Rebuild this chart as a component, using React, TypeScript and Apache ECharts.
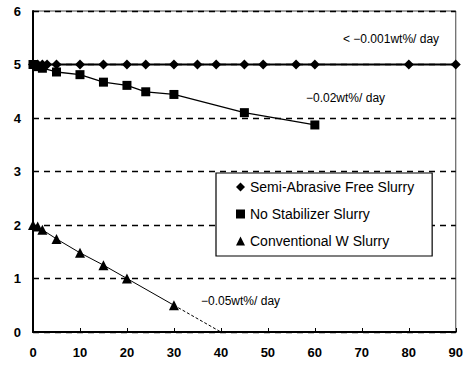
import React, { useEffect, useRef } from "react";
import * as echarts from "echarts";

const xTicks = [0, 10, 20, 30, 40, 50, 60, 70, 80, 90];
const yTicks = [0, 1, 2, 3, 4, 5, 6];

const semiDays = [0, 1, 2, 3, 5, 10, 15, 20, 24, 30, 35, 39, 45, 49, 56, 60, 80, 90];
const semiValues = [5, 5, 5, 5, 5, 5, 5, 5, 5, 5, 5, 5, 5, 5, 5, 5, 5, 5];

const noStabDays = [0, 1, 2, 5, 10, 15, 20, 24, 30, 45, 60];
const noStabValues = [5.0, 4.96, 4.93, 4.86, 4.81, 4.67, 4.61, 4.49, 4.44, 4.1, 3.87];

const convDays = [0, 1, 2, 5, 10, 15, 20, 30];
const convValues = [2.0, 1.97, 1.91, 1.74, 1.48, 1.25, 1.0, 0.5];

const convTrendDays = [30, 40];
const convTrendValues = [0.5, 0];

const seriesNames = ["Semi-Abrasive Free Slurry", "No Stabilizer Slurry", "Conventional W Slurry"];
const rateLabels = ["< \u22120.001wt%/ day", "\u22120.02wt%/ day", "\u22120.05wt%/ day"];

const zip = (xs: number[], ys: number[]) => xs.map((x, i) => [x, ys[i]]);

export default function App() {
  const ref = useRef<HTMLDivElement>(null);
  useEffect(() => {
    if (!ref.current) return;
    const chart = echarts.init(ref.current, null, { renderer: "svg" });
    const labelFont = {
      color: "#000",
      fontFamily: "'Liberation Sans Narrow', 'Liberation Sans', Arial, sans-serif",
      fontWeight: "bold" as const,
      fontSize: 13,
    };
    const txt = {
      fill: "#000",
      fontFamily: "'Liberation Sans', Arial, sans-serif",
      fontSize: 12,
    };
    chart.setOption({
      animation: false,
      backgroundColor: "#fff",
      grid: {
        left: 33,
        right: 6,
        top: 11,
        bottom: 34,
        show: true,
        borderColor: "#444",
        borderWidth: 1,
        backgroundColor: "transparent",
      },
      xAxis: {
        type: "value",
        min: 0,
        max: 90,
        interval: 10,
        axisLine: { lineStyle: { color: "#000", width: 2 } },
        axisTick: { show: true, inside: true, length: 4, lineStyle: { color: "#000" } },
        axisLabel: { ...labelFont, margin: 14, formatter: (v: number) => (xTicks.includes(v) ? String(v) : "") },
        splitLine: { show: false },
      },
      yAxis: {
        type: "value",
        min: 0,
        max: 6,
        interval: 1,
        axisLine: { show: true, lineStyle: { color: "#000", width: 2 } },
        axisTick: { show: false },
        axisLabel: { ...labelFont, margin: 12, formatter: (v: number) => (yTicks.includes(v) ? String(v) : "") },
        splitLine: { show: true, lineStyle: { color: "#000", width: 1.3, type: [6, 5] } },
      },
      legend: {
        left: 216,
        top: 173,
        orient: "vertical",
        backgroundColor: "#fff",
        borderColor: "#000",
        borderWidth: 1.2,
        padding: [7, 18, 8, 20],
        itemGap: 13,
        itemWidth: 9,
        itemHeight: 9,
        textStyle: { color: "#000", fontFamily: "'Liberation Sans', Arial, sans-serif", fontSize: 14 },
        data: [
          { name: seriesNames[0], icon: "diamond" },
          { name: seriesNames[1], icon: "rect" },
          { name: seriesNames[2], icon: "triangle" },
        ],
      },
      series: [
        {
          name: seriesNames[0],
          type: "line",
          data: zip(semiDays, semiValues),
          symbol: "diamond",
          symbolSize: 10,
          color: "#000",
          itemStyle: { color: "#000" },
          lineStyle: { color: "#000", width: 2 },
          z: 5,
        },
        {
          name: seriesNames[1],
          type: "line",
          data: zip(noStabDays, noStabValues),
          symbol: "rect",
          symbolSize: 9,
          color: "#000",
          itemStyle: { color: "#000" },
          lineStyle: { color: "#000", width: 1.3 },
          z: 4,
        },
        {
          name: seriesNames[2],
          type: "line",
          data: zip(convDays, convValues),
          symbol: "triangle",
          symbolSize: 10,
          color: "#000",
          itemStyle: { color: "#000" },
          lineStyle: { color: "#000", width: 1 },
          z: 4,
        },
        {
          name: "trend",
          type: "line",
          data: zip(convTrendDays, convTrendValues),
          symbol: "none",
          color: "#000",
          lineStyle: { color: "#000", width: 1, type: [3, 2] },
          z: 3,
        },
      ],
      graphic: [
        { type: "text", left: 343, top: 33, style: { ...txt, text: rateLabels[0] } },
        { type: "text", left: 306, top: 92, style: { ...txt, text: rateLabels[1] } },
        { type: "text", left: 201, top: 295, style: { ...txt, text: rateLabels[2] } },
      ],
    });
    return () => chart.dispose();
  }, []);
  return (
    <div
      ref={ref}
      style={{ position: "absolute", left: 0, top: 0, width: 466, height: 366, background: "#fff" }}
    />
  );
}
